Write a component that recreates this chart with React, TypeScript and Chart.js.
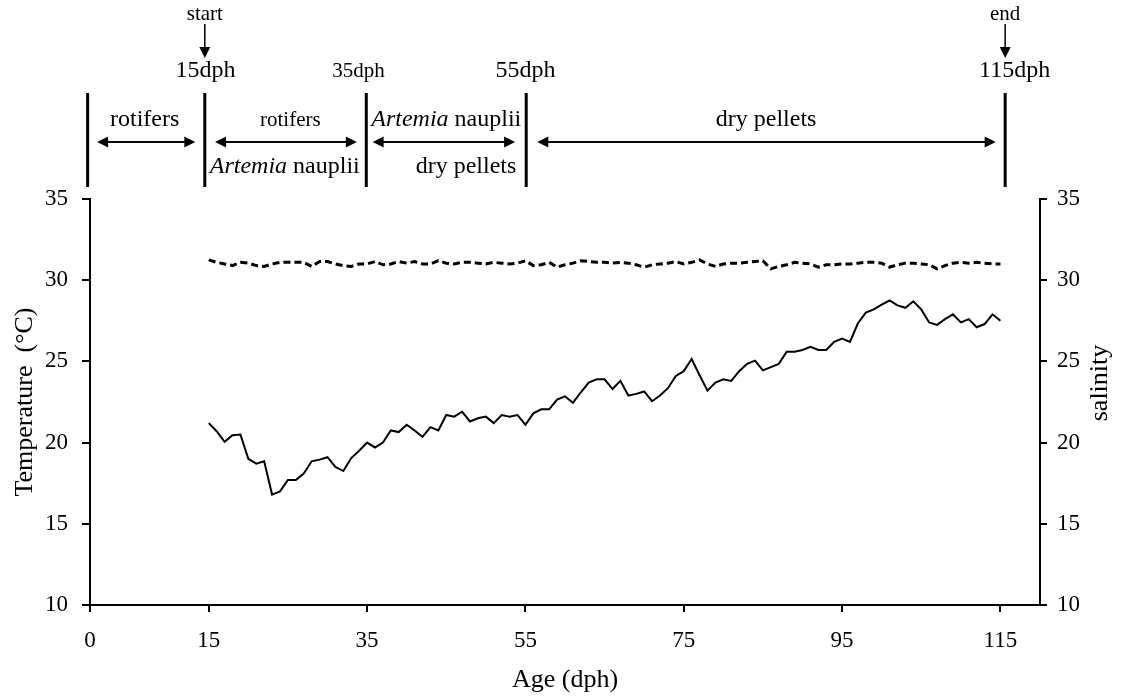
import React, { useEffect, useRef } from 'react';
import { Chart, registerables } from 'chart.js';

Chart.register(...registerables);

// ---------- data ----------
const startDay = 15;
const temperature = [
  21.2, 20.7, 20.05, 20.45, 20.5, 19.0, 18.7, 18.85, 16.8, 17.0,
  17.7, 17.7, 18.1, 18.85, 18.95, 19.1, 18.5, 18.25, 19.05, 19.5,
  20.0, 19.7, 20.0, 20.75, 20.65, 21.1, 20.75, 20.35, 20.95, 20.75,
  21.7, 21.6, 21.9, 21.3, 21.5, 21.6, 21.2, 21.7, 21.6, 21.7,
  21.1, 21.8, 22.05, 22.05, 22.65, 22.85, 22.45, 23.1, 23.7, 23.9,
  23.9, 23.3, 23.8, 22.9, 23.0, 23.15, 22.55, 22.9, 23.35, 24.1,
  24.4, 25.15, 24.15, 23.2, 23.7, 23.9, 23.8, 24.4, 24.85, 25.05,
  24.45, 24.65, 24.85, 25.6, 25.6, 25.7, 25.9, 25.7, 25.7, 26.2,
  26.4, 26.2, 27.35, 28.0, 28.2, 28.5, 28.75, 28.45, 28.3, 28.7,
  28.2, 27.4, 27.25, 27.6, 27.9, 27.4, 27.6, 27.1, 27.3, 27.9,
  27.5,
];
const salinity = [
  31.25, 31.1, 31.0, 30.9, 31.1, 31.05, 30.9, 30.85, 31.0, 31.1,
  31.1, 31.1, 31.1, 30.85, 31.15, 31.15, 31.0, 30.9, 30.85, 31.0,
  31.0, 31.15, 30.95, 31.0, 31.15, 31.05, 31.15, 31.0, 31.0, 31.2,
  31.05, 31.0, 31.1, 31.1, 31.05, 31.0, 31.1, 31.05, 31.0, 31.05,
  31.2, 30.9, 30.95, 31.1, 30.8, 30.95, 31.05, 31.2, 31.15, 31.1,
  31.1, 31.05, 31.1, 31.05, 30.95, 30.8, 30.95, 31.0, 31.05, 31.15,
  31.0, 31.1, 31.25, 31.0, 30.85, 31.0, 31.05, 31.05, 31.1, 31.15,
  31.2, 30.7, 30.85, 30.95, 31.1, 31.05, 31.0, 30.8, 30.95, 30.95,
  31.0, 31.0, 31.05, 31.1, 31.1, 31.05, 30.8, 30.95, 31.05, 31.05,
  31.0, 30.95, 30.7, 30.9, 31.05, 31.1, 31.05, 31.1, 31.05, 31.0,
  31.0,
];
const xTickValues = [0, 15, 35, 55, 75, 95, 115];
const xMin = 0;
const xMax = 120;
const yMin = 10;
const yMax = 35;
const yStep = 5;

// ---------- header (feeding schedule) ----------
const stageLineDays = [-0.3, 14.5, 34.9, 55.1, 115.6];
const markerLabels = ['15dph', '35dph', '55dph', '115dph'];
const markerDays = [14.6, 33.9, 55, 116.8];
const markerSmall = [false, true, false, false];
const eventLabels = ['start', 'end'];
const eventDays = [14.5, 115.6];
const arrowFromDays = [0.9, 15.8, 35.7, 56.5];
const arrowToDays = [13.3, 33.7, 53.7, 114.4];
const upperFoodLabels = ['rotifers', 'rotifers', 'Artemia nauplii', 'dry pellets'];
const upperFoodDays = [6.9, 25.3, 45.0, 85.4];
const upperFoodSmall = [false, true, false, false];
const lowerFoodLabels = ['Artemia nauplii', 'dry pellets'];
const lowerFoodDays = [24.6, 47.5];

const FONT = "'Liberation Serif', 'Times New Roman', serif";
const BIG = 24;
const SMALL = 21;

function drawRich(ctx: CanvasRenderingContext2D, text: string, cx: number, y: number, size: number) {
  const parts: [string, boolean][] = text.startsWith('Artemia')
    ? [['Artemia', true], [text.slice(7), false]]
    : [[text, false]];
  let total = 0;
  const widths = parts.map(([t, it]) => {
    ctx.font = `${it ? 'italic ' : ''}${size}px ${FONT}`;
    const w = ctx.measureText(t).width;
    total += w;
    return w;
  });
  let x = cx - total / 2;
  ctx.textAlign = 'left';
  ctx.textBaseline = 'middle';
  parts.forEach(([t, it], i) => {
    ctx.font = `${it ? 'italic ' : ''}${size}px ${FONT}`;
    ctx.fillText(t, x, y);
    x += widths[i];
  });
}

function head(ctx: CanvasRenderingContext2D, x: number, y: number, dir: 'left' | 'right' | 'down') {
  const L = 11, W = 5.5;
  ctx.beginPath();
  if (dir === 'down') {
    ctx.moveTo(x, y);
    ctx.lineTo(x - W, y - L);
    ctx.lineTo(x + W, y - L);
  } else if (dir === 'left') {
    ctx.moveTo(x, y);
    ctx.lineTo(x + L, y - W);
    ctx.lineTo(x + L, y + W);
  } else {
    ctx.moveTo(x, y);
    ctx.lineTo(x - L, y - W);
    ctx.lineTo(x - L, y + W);
  }
  ctx.closePath();
  ctx.fill();
}

const headerPlugin = {
  id: 'header',
  afterDraw(chart: any) {
    const ctx: CanvasRenderingContext2D = chart.ctx;
    const xs = chart.scales.x;
    const px = (d: number) => xs.getPixelForValue(d);
    ctx.save();
    ctx.fillStyle = '#000';
    ctx.strokeStyle = '#000';

    // vertical stage lines
    ctx.lineWidth = 3;
    stageLineDays.forEach((d) => {
      ctx.beginPath();
      ctx.moveTo(px(d), 93);
      ctx.lineTo(px(d), 187);
      ctx.stroke();
    });

    // start / end
    eventLabels.forEach((t, i) => {
      const x = px(eventDays[i]);
      ctx.font = `${SMALL}px ${FONT}`;
      ctx.textAlign = 'center';
      ctx.textBaseline = 'middle';
      ctx.fillText(t, x, 14);
      ctx.lineWidth = 1.5;
      ctx.beginPath();
      ctx.moveTo(x, 24);
      ctx.lineTo(x, 52);
      ctx.stroke();
      head(ctx, x, 58, 'down');
    });

    // dph markers
    markerLabels.forEach((t, i) => {
      ctx.font = `${markerSmall[i] ? SMALL : BIG}px ${FONT}`;
      ctx.textAlign = 'center';
      ctx.textBaseline = 'middle';
      ctx.fillText(t, px(markerDays[i]), 71);
    });

    // double arrows
    ctx.lineWidth = 2;
    arrowFromDays.forEach((d, i) => {
      const x1 = px(d);
      const x2 = px(arrowToDays[i]);
      const y = 142;
      ctx.beginPath();
      ctx.moveTo(x1 + 6, y);
      ctx.lineTo(x2 - 6, y);
      ctx.stroke();
      head(ctx, x1, y, 'left');
      head(ctx, x2, y, 'right');
    });

    // food labels
    upperFoodLabels.forEach((t, i) => {
      drawRich(ctx, t, px(upperFoodDays[i]), 120, upperFoodSmall[i] ? SMALL : BIG);
    });
    lowerFoodLabels.forEach((t, i) => {
      drawRich(ctx, t, px(lowerFoodDays[i]), 167, BIG);
    });

    // right axis title (reads bottom-to-top)
    ctx.translate(1100, 383);
    ctx.rotate(-Math.PI / 2);
    ctx.font = `26px ${FONT}`;
    ctx.textAlign = 'center';
    ctx.textBaseline = 'middle';
    ctx.fillText('salinity', 0, 0);
    ctx.restore();
  },
};

export default function App() {
  const ref = useRef<HTMLCanvasElement | null>(null);

  useEffect(() => {
    if (!ref.current) return;
    Chart.defaults.color = '#000';
    Chart.defaults.font.family = FONT;
    const days = temperature.map((_, i) => startDay + i);
    const tickFont = { family: FONT, size: 23 };
    const axisCommon = {
      grid: { display: true, drawOnChartArea: false, drawTicks: true, tickLength: 8, color: '#000', lineWidth: 2 },
      border: { display: true, color: '#000', width: 2 },
    };
    const chart = new Chart(ref.current, {
      type: 'line',
      data: {
        datasets: [
          {
            label: 'Temperature',
            data: days.map((d, i) => ({ x: d, y: temperature[i] })),
            borderColor: '#000',
            borderWidth: 2,
            pointRadius: 0,
            tension: 0,
            yAxisID: 'y',
          },
          {
            label: 'Salinity',
            data: days.map((d, i) => ({ x: d, y: salinity[i] })),
            borderColor: '#000',
            borderWidth: 3,
            borderDash: [7, 4],
            pointRadius: 0,
            tension: 0,
            yAxisID: 'y1',
          },
        ],
      },
      plugins: [headerPlugin],
      options: {
        animation: false,
        responsive: false,
        devicePixelRatio: 1,
        layout: { padding: { top: 199, left: 0, right: 0, bottom: 0 } },
        plugins: { legend: { display: false }, tooltip: { enabled: false } },
        scales: {
          x: {
            type: 'linear',
            min: xMin,
            max: xMax,
            ...axisCommon,
            grid: { ...axisCommon.grid, tickLength: 7 },
            afterBuildTicks: (scale: any) => {
              scale.ticks = xTickValues.map((v) => ({ value: v }));
            },
            afterFit: (scale: any) => {
              scale.height = 91;
            },
            ticks: { font: tickFont, padding: 15, maxRotation: 0, autoSkip: false },
            title: { display: true, text: 'Age (dph)', font: { family: FONT, size: 26 }, padding: { top: 0, bottom: 0 } },
          },
          y: {
            type: 'linear',
            position: 'left',
            min: yMin,
            max: yMax,
            ...axisCommon,
            afterFit: (scale: any) => {
              scale.width = 90;
            },
            ticks: { stepSize: yStep, font: tickFont, padding: 14 },
            title: { display: true, text: 'Temperature  (°C)', font: { family: FONT, size: 26 }, padding: { top: 10, bottom: 0 } },
          },
          y1: {
            type: 'linear',
            position: 'right',
            min: yMin,
            max: yMax,
            ...axisCommon,
            grid: { ...axisCommon.grid, tickLength: 7 },
            afterFit: (scale: any) => {
              scale.width = 86;
            },
            ticks: { stepSize: yStep, font: tickFont, padding: 10 },
          },
        },
      },
    } as any);
    return () => chart.destroy();
  }, []);

  return (
    <div style={{ position: 'fixed', left: 0, top: 0, width: 1126, height: 696, background: '#fff' }}>
      <canvas ref={ref} width={1126} height={696} style={{ display: 'block', width: 1126, height: 696 }} />
    </div>
  );
}
